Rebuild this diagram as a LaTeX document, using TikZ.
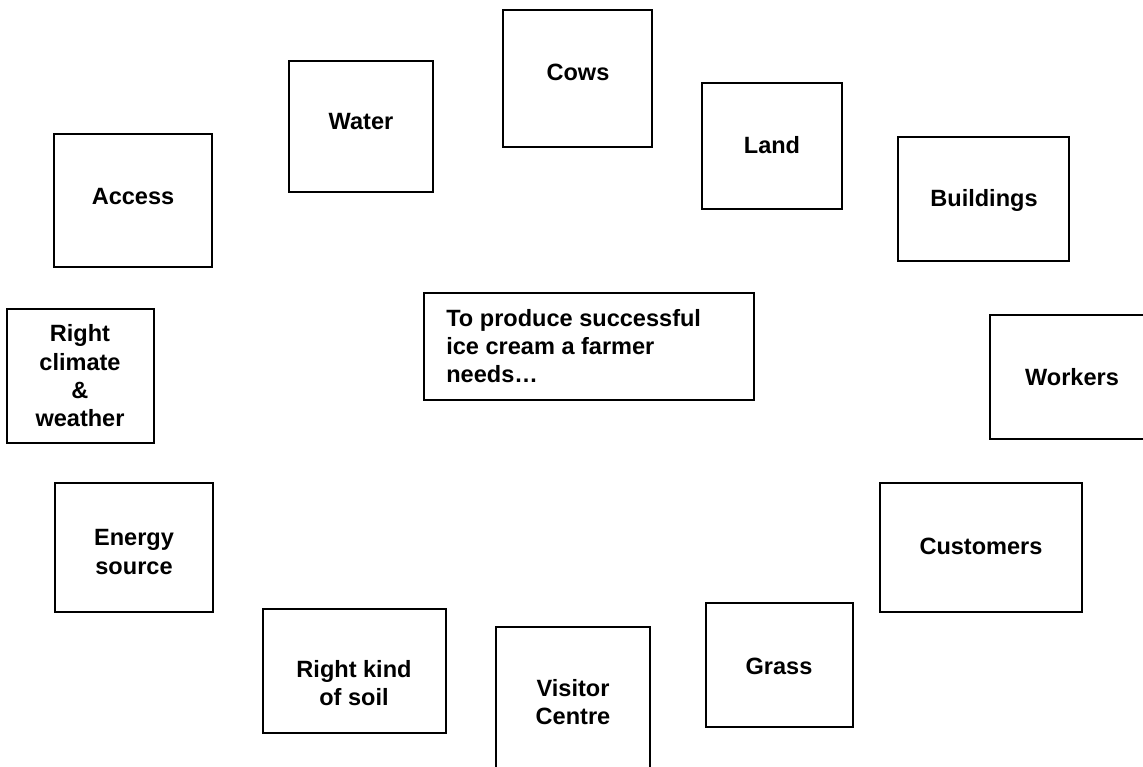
\documentclass[tikz,border=0pt]{standalone}
\usepackage{fontspec}
\setmainfont{Liberation Sans}
\tikzset{
  cell/.style = {
    rectangle, draw=black, line width=1.1pt, inner sep=0pt
  },
  txt/.style = {
    inner sep=0pt, align=center,
    font=\bfseries\fontsize{13.4}{16.1}\selectfont
  },
}

\begin{document}
\begin{tikzpicture}[x=0.02cm, y=-0.02cm]
  \clip (0,0) rectangle (1143,767);
  % boxes round the page
  \node (cows) [cell, minimum width=2.98cm, minimum height=2.74cm] at (577.5,78.5) {};
  \node (cows_t) [txt] at (578,72) {Cows};
  \node (water) [cell, minimum width=2.88cm, minimum height=2.62cm] at (361,126.5) {};
  \node (water_t) [txt] at (361,122) {Water};
  \node (land) [cell, minimum width=2.80cm, minimum height=2.52cm] at (772,146) {};
  \node (land_t) [txt] at (772,145) {Land};
  \node (access) [cell, minimum width=3.16cm, minimum height=2.66cm] at (133,200.5) {};
  \node (access_t) [txt] at (133,197) {Access};
  \node (bldg) [cell, minimum width=3.42cm, minimum height=2.48cm] at (983.5,199) {};
  \node (bldg_t) [txt] at (984,200) {Buildings};
  \node (workers) [cell, minimum width=3.28cm, minimum height=2.48cm] at (1072,377) {};
  \node (workers_t) [txt] at (1072,377) {Workers};
  \node (climate) [cell, minimum width=2.94cm, minimum height=2.68cm] at (80.5,376) {};
  \node (climate_t) [txt] at (80,376) {Right\\climate\\\&\\weather};
  \node (energy) [cell, minimum width=3.16cm, minimum height=2.58cm] at (134,547.5) {};
  \node (energy_t) [txt] at (134,552) {Energy\\source};
  \node (cust) [cell, minimum width=4.04cm, minimum height=2.58cm] at (981,547.5) {};
  \node (cust_t) [txt] at (981,546) {Customers};
  \node (grass) [cell, minimum width=2.94cm, minimum height=2.48cm] at (779.5,665) {};
  \node (grass_t) [txt] at (779,666) {Grass};
  \node (soil) [cell, minimum width=3.66cm, minimum height=2.48cm] at (354.5,671) {};
  \node (soil_t) [txt] at (354,683) {Right kind\\of soil};
  \node (visitor) [cell, minimum width=3.08cm, minimum height=3.06cm] at (573,703.5) {};
  \node (visitor_t) [txt] at (573,702) {Visitor\\Centre};
  % the question in the middle
  \node (goal) [cell, minimum width=6.60cm, minimum height=2.14cm] at (589,346.5) {};
  \node (goal_t) [txt, align=left, anchor=west] at (446,346) {To produce successful\\ice cream a farmer\\needs\dots};
\end{tikzpicture}
\end{document}
